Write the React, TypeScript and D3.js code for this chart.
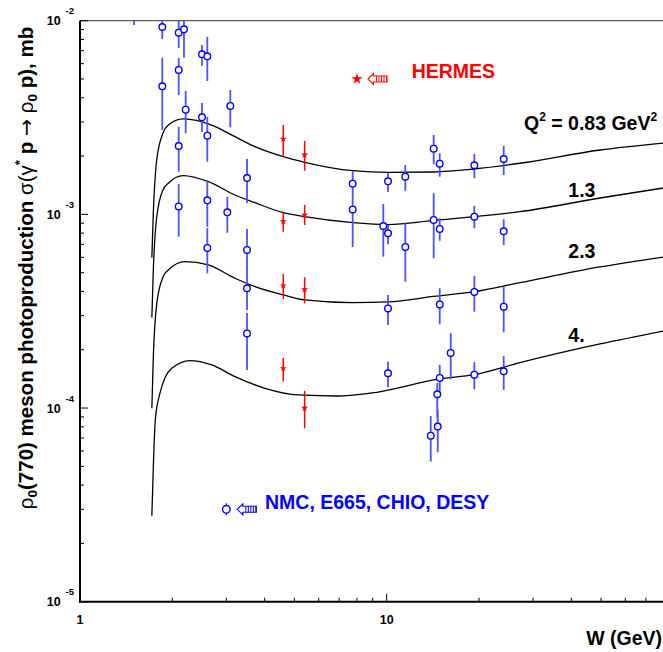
import React from "react";
import * as d3 from "d3";

const FONT = "'Liberation Sans', Arial, Helvetica, sans-serif";

// Model curves: [W (GeV), sigma (mb)], one per Q^2 value
const curveQ083: [number, number][] = [
  [1.715, 5.98e-4], [1.734, 1.017e-3], [1.779, 1.909e-3], [1.865, 2.633e-3],
  [1.941, 2.893e-3], [2.172, 3.109e-3], [2.688, 2.893e-3], [3.202, 2.518e-3],
  [3.721, 2.236e-3], [4.601, 1.985e-3], [5.404, 1.858e-3], [7.746, 1.681e-3],
  [10.12, 1.649e-3], [14.23, 1.655e-3], [19.31, 1.715e-3], [27.2, 1.836e-3],
  [49.6, 2.15e-3], [80, 2.336e-3],
];
const curveQ13: [number, number][] = [
  [1.715, 2.93e-4], [1.734, 5.16e-4], [1.779, 9.69e-4], [1.865, 1.337e-3],
  [1.941, 1.447e-3], [2.172, 1.584e-3], [2.62, 1.475e-3], [3.202, 1.259e-3],
  [3.721, 1.149e-3], [4.601, 1.02e-3], [5.404, 9.73e-4], [7.746, 9.06e-4],
  [10.12, 8.85e-4], [14.23, 9.3e-4], [19.31, 9.73e-4], [27.2, 1.032e-3],
  [49.6, 1.215e-3], [80, 1.369e-3],
];
const curveQ23: [number, number][] = [
  [1.715, 9.98e-5], [1.734, 1.835e-4], [1.779, 3.447e-4], [1.865, 4.751e-4],
  [1.941, 5.164e-4], [2.199, 5.7e-4], [2.62, 5.48e-4], [3.202, 4.678e-4],
  [3.721, 4.233e-4], [4.601, 3.836e-4], [5.404, 3.615e-4], [7.746, 3.5e-4],
  [10.12, 3.529e-4], [14.23, 3.768e-4], [19.31, 3.989e-4], [27.2, 4.44e-4],
  [49.6, 5.35e-4], [80, 6.025e-4],
];
const curveQ4: [number, number][] = [
  [1.715, 2.78e-5], [1.737, 5.4e-5], [1.76, 8.68e-5], [1.823, 1.193e-4],
  [1.991, 1.604e-4], [2.284, 1.757e-4], [2.688, 1.669e-4], [3.202, 1.453e-4],
  [4.011, 1.265e-4], [5.15, 1.168e-4], [6.953, 1.154e-4], [8.82, 1.193e-4],
  [14.89, 1.413e-4], [19.31, 1.487e-4], [27.2, 1.716e-4], [49.6, 2.142e-4],
  [80, 2.5e-4],
];
const modelCurves = [curveQ083, curveQ13, curveQ23, curveQ4];

// NMC, E665, CHIO, DESY: [W, sigma, sigma low, sigma high]
const worldData: [number, number, number, number][] = [
  [1.5, 1.15e-2, 9.5e-3, 1.4e-2],
  [1.855, 9.28e-3, 8.04e-3, 1.1e-2],
  [1.855, 4.585e-3, 2.727e-3, 6.44e-3],
  [2.098, 8.67e-3, 7.23e-3, 1.1e-2],
  [2.098, 5.57e-3, 4.135e-3, 6.42e-3],
  [2.183, 9.03e-3, 6.44e-3, 1.1e-2],
  [2.499, 6.71e-3, 5.86e-3, 7.49e-3],
  [2.601, 6.55e-3, 4.88e-3, 8.24e-3],
  [3.091, 3.63e-3, 2.817e-3, 4.39e-3],
  [2.211, 3.47e-3, 2.623e-3, 4.34e-3],
  [2.499, 3.17e-3, 2.664e-3, 3.76e-3],
  [2.601, 2.548e-3, 1.871e-3, 3.19e-3],
  [2.098, 2.254e-3, 1.661e-3, 2.836e-3],
  [3.504, 1.541e-3, 1.145e-3, 1.932e-3],
  [2.098, 1.099e-3, 7.67e-4, 1.435e-3],
  [2.601, 1.182e-3, 8.64e-4, 1.505e-3],
  [3.022, 1.025e-3, 8.04e-4, 1.234e-3],
  [2.601, 6.71e-4, 4.965e-4, 8.51e-4],
  [3.504, 6.55e-4, 5.16e-4, 8.41e-4],
  [3.504, 4.154e-4, 3.21e-4, 5.29e-4],
  [3.504, 2.427e-4, 1.573e-4, 3.097e-4],
  [7.746, 1.44e-3, 1.23e-3, 1.681e-3],
  [7.746, 1.06e-3, 6.79e-4, 1.23e-3],
  [10.1, 1.482e-3, 1.305e-3, 1.636e-3],
  [11.5, 1.565e-3, 1.325e-3, 1.8e-3],
  [14.23, 2.184e-3, 1.814e-3, 2.57e-3],
  [14.89, 1.827e-3, 1.565e-3, 2.067e-3],
  [19.31, 1.793e-3, 1.536e-3, 2.05e-3],
  [24.07, 1.932e-3, 1.597e-3, 2.254e-3],
  [9.748, 8.71e-4, 6.05e-4, 1.132e-3],
  [10.1, 7.99e-4, 7.01e-4, 8.82e-4],
  [11.5, 6.79e-4, 4.49e-4, 9.06e-4],
  [14.23, 9.36e-4, 5.93e-4, 1.285e-3],
  [14.89, 8.41e-4, 7.31e-4, 9.55e-4],
  [19.31, 9.73e-4, 8.48e-4, 1.105e-3],
  [24.07, 8.18e-4, 6.95e-4, 9.43e-4],
  [10.1, 3.268e-4, 2.685e-4, 3.836e-4],
  [14.89, 3.427e-4, 2.707e-4, 4.154e-4],
  [19.31, 3.975e-4, 3.145e-4, 4.81e-4],
  [24.07, 3.339e-4, 2.462e-4, 4.233e-4],
  [10.1, 1.512e-4, 1.28e-4, 1.736e-4],
  [16.17, 1.925e-4, 1.408e-4, 2.433e-4],
  [14.89, 1.43e-4, 1.215e-4, 1.669e-4],
  [14.62, 1.178e-4, 8.86e-5, 1.348e-4],
  [19.31, 1.487e-4, 1.25e-4, 1.724e-4],
  [24.07, 1.549e-4, 1.24e-4, 1.858e-4],
  [14.67, 8.02e-5, 5.91e-5, 9.78e-5],
  [13.92, 7.2e-5, 5.29e-5, 9.1e-5],
];

// HERMES: [W, sigma, sigma low, sigma high]
const hermesData: [number, number, number, number][] = [
  [4.6, 2.45e-3, 2.002e-3, 2.893e-3],
  [5.4, 2.033e-3, 1.681e-3, 2.393e-3],
  [4.6, 9.19e-4, 8.14e-4, 1.032e-3],
  [5.4, 9.93e-4, 8.82e-4, 1.118e-3],
  [4.6, 4.284e-4, 3.657e-4, 4.92e-4],
  [5.4, 4.094e-4, 3.475e-4, 4.735e-4],
  [4.6, 1.604e-4, 1.372e-4, 1.814e-4],
  [5.4, 1.001e-4, 7.86e-5, 1.226e-4],
];

// Legend anchor points in data space
const hermesLegend: [number, number] = [8, 5e-3];
const worldLegend: [number, number] = [3, 3e-5];

const xDomain: [number, number] = [1, 100];
const yDomain: [number, number] = [1e-5, 1e-2];
const xLabelTicks = [1, 10];
const xLabels = ["1", "10"];
const yLabelTicks = [1e-2, 1e-3, 1e-4, 1e-5];
const yLabelExponents = ["-2", "-3", "-4", "-5"];

const RED = "#ff0000";
const BLUE = "#0000ff";
const BAR_BLUE = "#5050ff";

function arrow(cx: number, cy: number, color: string, key: string) {
  const tip = cx + 11, headEnd = cx + 16.5, tail = cx + 30;
  const hh = 5.5, sh = 3;
  const d = `M${tip},${cy} L${headEnd},${cy - hh} L${headEnd},${cy - sh} L${tail},${cy - sh} L${tail},${cy + sh} L${headEnd},${cy + sh} L${headEnd},${cy + hh} Z`;
  const hatch: number[] = [];
  for (let hx = headEnd + 3; hx <= tail; hx += 2.5) hatch.push(hx);
  return (
    <g key={key}>
      <path d={d} fill="white" stroke={color} strokeWidth={1.1} />
      {hatch.map((hx, i) => (
        <line key={i} x1={hx} x2={hx} y1={cy - sh} y2={cy + sh} stroke={color} strokeWidth={1} />
      ))}
    </g>
  );
}

export default function App() {
  const width = 663, height = 652;
  const left = 80, top = 20.7, bottom = 601.7, decade = 306.7;
  const right = left + 2 * decade;

  const x = d3.scaleLog().domain(xDomain).range([left, right]);
  const y = d3.scaleLog().domain(yDomain).range([bottom, top]);

  const line = d3
    .line<[number, number]>()
    .x((d) => x(d[0]))
    .y((d) => y(d[1]))
    .curve(d3.curveMonotoneX);

  const xMinor: number[] = [];
  [1, 10].forEach((base) => {
    for (let k = 2; k <= 9; k++) xMinor.push(base * k);
  });
  const yMinor: number[] = [];
  [1e-5, 1e-4, 1e-3].forEach((base) => {
    for (let k = 2; k <= 9; k++) yMinor.push(base * k);
  });

  const starSmall = d3.symbol(d3.symbolStar, 16)() as string;
  const starBig = d3.symbol(d3.symbolStar, 38)() as string;

  const hx = x(hermesLegend[0]), hy = y(hermesLegend[1]);
  const wx = x(worldLegend[0]), wy = y(worldLegend[1]);

  return (
    <svg
      width={width}
      height={height}
      style={{ position: "absolute", left: 0, top: 0, background: "white" }}
      fontFamily={FONT}
    >
      <defs>
        <clipPath id="plotArea">
          <rect x={left} y={top} width={right - left} height={bottom - top} />
        </clipPath>
      </defs>

      {/* frame */}
      <line x1={left} x2={right} y1={top} y2={top} stroke="#333" strokeWidth={1} />
      <line x1={right} x2={right} y1={top} y2={bottom} stroke="#333" strokeWidth={1} />

      {/* ticks */}
      {xMinor.map((v) => (
        <line key={"xm" + v} x1={x(v)} x2={x(v)} y1={bottom} y2={bottom - 4} stroke="black" strokeWidth={1} />
      ))}
      {[1, 10, 100].map((v) => (
        <line key={"xM" + v} x1={x(v)} x2={x(v)} y1={bottom} y2={bottom - 8} stroke="black" strokeWidth={1} />
      ))}
      {yMinor.map((v) => (
        <line key={"ym" + v} x1={left} x2={left + 4} y1={y(v)} y2={y(v)} stroke="black" strokeWidth={1} />
      ))}
      {yLabelTicks.map((v) => (
        <line key={"yM" + v} x1={left} x2={left + 8} y1={y(v)} y2={y(v)} stroke="black" strokeWidth={1} />
      ))}

      {/* axes */}
      <line x1={left} x2={left} y1={top} y2={bottom + 1} stroke="black" strokeWidth={2} />
      <line x1={left - 1} x2={right} y1={bottom} y2={bottom} stroke="black" strokeWidth={2} />

      {/* tick labels */}
      {xLabelTicks.map((v, i) => (
        <text key={"xl" + v} x={x(v)} y={bottom + 22.5} textAnchor="middle" fontSize={12.5} fontWeight="bold">
          {xLabels[i]}
        </text>
      ))}
      {yLabelTicks.map((v, i) => (
        <g key={"yl" + v}>
          <text x={60.7} y={y(v) + 4.5} textAnchor="end" fontSize={12.5} fontWeight="bold">10</text>
          <text x={65.5} y={y(v) - 6.3} fontSize={9.5} fontWeight="bold">{yLabelExponents[i]}</text>
        </g>
      ))}

      {/* axis titles */}
      <text x={662} y={645} textAnchor="end" fontSize={19.5} fontWeight="bold">W (GeV)</text>
      <text transform="translate(33,268) rotate(-90)" textAnchor="middle" fontSize={20.5} fontWeight="bold">
        <tspan fontWeight="normal">ρ</tspan>
        <tspan fontSize={13.5} dy={4}>0</tspan>
        <tspan dy={-4}>(770) meson photoproduction </tspan>
        <tspan fontWeight="normal">σ(γ</tspan>
        <tspan fontSize={13.5} dy={-9}>*</tspan>
        <tspan dy={9}> p </tspan>
        <tspan fontFamily="'DejaVu Sans', sans-serif" fontWeight="normal">→</tspan>
        <tspan fontWeight="normal"> ρ</tspan>
        <tspan fontSize={13.5} dy={4}>0</tspan>
        <tspan dy={-4}> p), mb</tspan>
      </text>

      <g clipPath="url(#plotArea)">
        {modelCurves.map((c, i) => (
          <path key={"c" + i} d={line(c) as string} fill="none" stroke="black" strokeWidth={1.3} />
        ))}

        {worldData.map((d, i) => (
          <line key={"wb" + i} x1={x(d[0])} x2={x(d[0])} y1={y(d[2])} y2={y(d[3])} stroke={BAR_BLUE} strokeWidth={1.8} />
        ))}
        {worldData.map((d, i) => (
          <circle key={"wc" + i} cx={x(d[0])} cy={y(d[1])} r={3.3} fill="white" stroke={BLUE} strokeWidth={1.4} />
        ))}

        {hermesData.map((d, i) => (
          <line key={"hb" + i} x1={x(d[0])} x2={x(d[0])} y1={y(d[2])} y2={y(d[3])} stroke={RED} strokeWidth={1.5} />
        ))}
        {hermesData.map((d, i) => (
          <path key={"hs" + i} d={starSmall} transform={`translate(${x(d[0])},${y(d[1])})`} fill={RED} />
        ))}
      </g>

      {/* curve labels */}
      <text x={524} y={130} fontSize={19.5} fontWeight="bold">
        <tspan>Q</tspan>
        <tspan fontSize={12} dy={-9}>2</tspan>
        <tspan dy={9}> = 0.83 GeV</tspan>
        <tspan fontSize={12} dy={-9}>2</tspan>
      </text>
      <text x={568.3} y={196.7} fontSize={19.5} fontWeight="bold">1.3</text>
      <text x={568.3} y={258} fontSize={19.5} fontWeight="bold">2.3</text>
      <text x={568.3} y={341.7} fontSize={19.5} fontWeight="bold">4.</text>

      {/* legends */}
      <path d={starBig} transform={`translate(${hx},${hy})`} fill={RED} />
      {arrow(hx, hy, RED, "ah")}
      <text x={411.7} y={hy - 0.5} fontSize={19.5} fontWeight="bold" fill={RED}>HERMES</text>

      <line x1={wx} x2={wx} y1={wy - 6} y2={wy + 6} stroke={BLUE} strokeWidth={1.2} />
      <circle cx={wx} cy={wy} r={3.8} fill="white" stroke={BLUE} strokeWidth={1.4} />
      {arrow(wx, wy, BLUE, "aw")}
      <text x={265} y={wy} fontSize={19.5} fontWeight="bold" fill={BLUE}>NMC, E665, CHIO, DESY</text>
    </svg>
  );
}
